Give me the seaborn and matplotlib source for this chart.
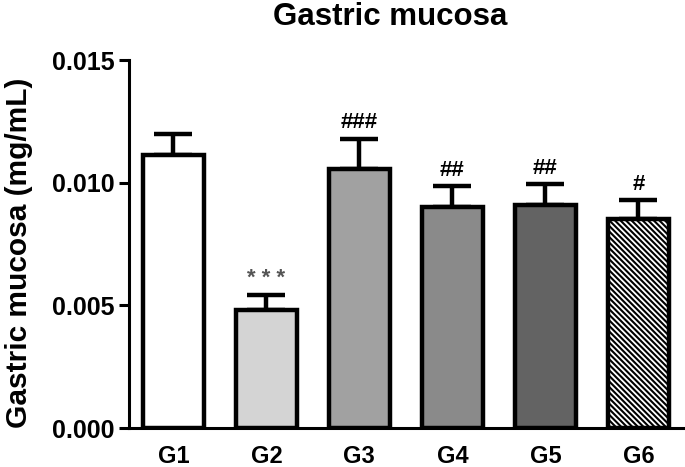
import numpy as np
import pandas as pd
import seaborn as sns
import matplotlib.pyplot as plt

groups = ["G1", "G2", "G3", "G4", "G5", "G6"]
means = [0.01114, 0.00482, 0.01055, 0.00899, 0.00907, 0.00853]
sem = [0.00086, 0.00061, 0.00125, 0.00086, 0.00088, 0.00075]
marks = ["", "* * *", "###", "##", "##", "#"]
fills = ["#ffffff", "#d4d4d4", "#a1a1a1", "#8a8a8a", "#636363", "#ffffff"]


def main():
    sns.set_theme(style="white")
    plt.rcParams["font.family"] = ["Liberation Sans", "DejaVu Sans"]
    plt.rcParams["font.weight"] = "bold"
    plt.rcParams["hatch.linewidth"] = 1.5
    plt.rcParams["text.color"] = "black"

    df = pd.DataFrame({"group": groups, "value": means})

    fig = plt.figure(figsize=(6.85, 4.67), dpi=100)
    ax = fig.add_axes([0.188, 0.0835, 0.809, 0.788])

    sns.barplot(data=df, x="group", y="value", hue="group", palette=fills,
                legend=False, errorbar=None, width=0.66,
                edgecolor="black", linewidth=3.2, ax=ax, zorder=3)
    ax.patches[-1].set_hatch("\\" * 6)

    x = np.arange(len(groups))
    ax.errorbar(x, means, yerr=[np.zeros(len(sem)), sem], fmt="none",
                ecolor="black", elinewidth=3.2, capsize=14, capthick=3.2,
                zorder=2)

    for i, (m, s, t) in enumerate(zip(means, sem, marks)):
        if not t:
            continue
        col = "#555555" if t.startswith("*") else "black"
        ax.text(i, m + s + 0.00022, t, ha="center", va="bottom",
                fontsize=16, fontweight="bold", color=col)

    ax.set_xlim(-0.48, 5.48)
    ax.set_ylim(0, 0.015)
    ax.set_yticks([0.0, 0.005, 0.010, 0.015])
    ax.set_yticklabels(["0.000", "0.005", "0.010", "0.015"])
    ax.set_xlabel("")
    ax.set_ylabel("Gastric mucosa (mg/mL)", fontsize=21.5, fontweight="bold",
                  color="black")
    ax.yaxis.set_label_coords(-0.172, 0.476)
    fig.text(0.569, 0.964, "Gastric mucosa", ha="center", va="center",
             fontsize=22.5, fontweight="bold", color="black")

    sns.despine(ax=ax)
    for side in ["left", "bottom"]:
        ax.spines[side].set_linewidth(2.2)
        ax.spines[side].set_color("black")
    ax.tick_params(axis="y", which="both", left=True, length=7, width=2.2,
                   labelsize=18, pad=3, color="black", labelcolor="black")
    ax.tick_params(axis="x", bottom=False, labelsize=17, pad=6,
                   labelcolor="black")
    for lab in ax.get_xticklabels() + ax.get_yticklabels():
        lab.set_fontweight("bold")

    fig.savefig("out.png", dpi=100)
    plt.close(fig)


if __name__ == "__main__":
    main()
